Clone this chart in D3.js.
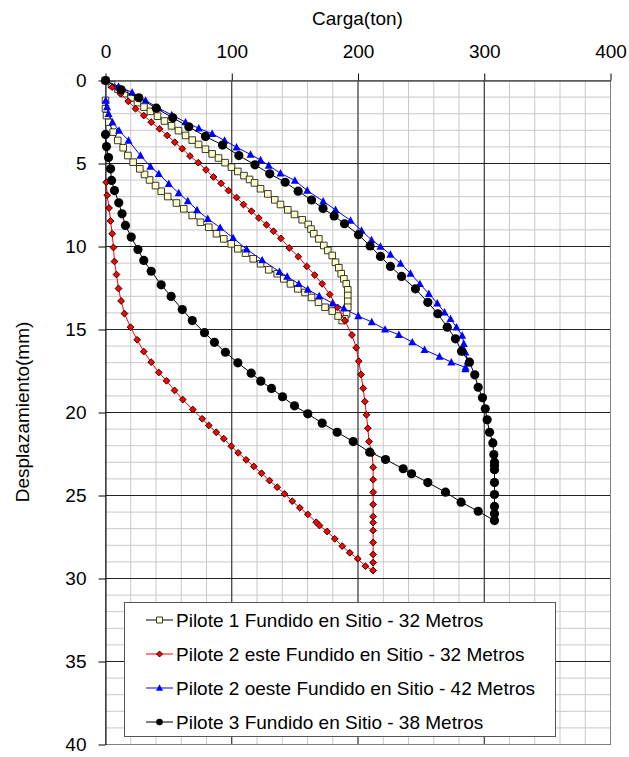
<!DOCTYPE html>
<html>
<head>
<meta charset="utf-8">
<script src="https://cdn.jsdelivr.net/npm/d3@7"></script>
<style>
  body { margin: 0; background: #fff; }
  svg text { font-family: "Liberation Sans", Arial, sans-serif; fill: #000; }
</style>
</head>
<body>
<div id="chart"></div>
<script>
// axis ticks
var xTicks = [0, 100, 200, 300, 400];
var yTicks = [0, 5, 10, 15, 20, 25, 30, 35, 40];

var seriesNames = [
  'Pilote 1 Fundido en Sitio - 32 Metros',
  'Pilote 2 este Fundido en Sitio - 32 Metros',
  'Pilote 2 oeste Fundido en Sitio - 42 Metros',
  'Pilote 3 Fundido en Sitio - 38 Metros'
];

// [carga (ton), desplazamiento (mm)] -- loading then unloading
var pilote1 = [
  [0, 0], [4.8, 0.25], [9.9, 0.52], [15.0, 0.79], [20.2, 1.05], [25.3, 1.33], [30.5, 1.6], [35.6, 1.86],
  [41.2, 2.15], [46.7, 2.44], [52.3, 2.73], [57.8, 3.02], [63.4, 3.31], [68.7, 3.59], [73.7, 3.85],
  [79.2, 4.14], [84.5, 4.42], [89.5, 4.67], [94.7, 4.95], [99.8, 5.22], [104.8, 5.48], [109.7, 5.73],
  [114.1, 5.96], [118.0, 6.17], [122.8, 6.52], [128.6, 6.83], [134.1, 7.19], [138.6, 7.47], [144.4, 7.79],
  [149.7, 8.07], [155.8, 8.39], [160.6, 8.67], [162.8, 8.95], [165.0, 9.23], [169.0, 9.54], [172.9, 9.94],
  [176.1, 10.24], [179.6, 10.54], [182.2, 10.95], [184.8, 11.28], [186.7, 11.64], [188.8, 11.95],
  [190.7, 12.25], [191.9, 12.61], [191.9, 12.95], [191.9, 13.3], [191.9, 13.66], [190.9, 14.05], [189.5, 14.36],
  [187.5, 14.46], [184.2, 14.19], [179.6, 13.89], [173.9, 13.66], [168.7, 13.36], [163.2, 13.07],
  [158.0, 12.77], [152.3, 12.55], [146.5, 12.25], [141.2, 11.95], [136.0, 11.64], [129.3, 11.4],
  [122.8, 11.04], [117.0, 10.74], [110.9, 10.4], [104.8, 10.14], [99.6, 9.84], [93.7, 9.54], [87.9, 9.23],
  [81.8, 8.84], [75.2, 8.54], [68.7, 8.13], [62.0, 7.73], [56.2, 7.38], [49.3, 6.99], [44.1, 6.67],
  [39.6, 6.33], [34.9, 5.99], [30.9, 5.66], [27.2, 5.32], [21.9, 4.92], [17.7, 4.52], [14.0, 4.05],
  [9.7, 3.61], [6.1, 3.11], [2.6, 2.51], [0.8, 2.11], [0, 1.7], [0, 1.2]
];

var pilote2este = [
  [0, 0], [5.3, 0.4], [11.9, 0.8], [18.0, 1.25], [23.8, 1.7], [30.3, 2.11], [36.2, 2.51], [42.8, 2.91],
  [48.9, 3.31], [54.9, 3.72], [60.8, 4.11], [66.9, 4.55], [73.5, 4.95], [79.6, 5.38], [85.5, 5.81],
  [91.6, 6.2], [97.4, 6.63], [103.8, 7.05], [109.3, 7.47], [115.6, 7.87], [121.4, 8.28], [127.5, 8.69],
  [133.1, 9.08], [138.9, 9.51], [145.6, 10.09], [152.7, 10.61], [159.4, 11.2], [165.7, 11.72],
  [171.6, 12.25], [177.6, 12.89], [183.8, 13.67], [189.5, 14.46], [195.2, 15.33], [198.6, 16.1],
  [200.6, 16.91], [202.4, 17.71], [204.1, 18.54], [205.4, 19.34], [206.7, 20.14], [207.8, 20.95],
  [208.7, 21.75], [211.2, 22.47], [212.0, 23.3], [212.0, 24.05], [212.0, 24.8], [212.0, 25.54],
  [212.0, 26.27], [212.0, 26.63], [212.0, 27.11], [212.0, 27.83], [212.0, 28.55], [212.0, 29.04], [212.0, 29.52],
  [205.9, 29.26], [199.8, 28.81], [193.5, 28.45], [187.5, 28.05], [181.6, 27.61], [175.6, 27.17],
  [169.5, 26.81], [166.9, 26.61], [160.2, 26.14], [153.9, 25.74], [147.9, 25.34], [141.8, 24.9],
  [136.0, 24.5], [129.9, 24.1], [123.6, 23.66], [117.5, 23.25], [111.4, 22.85], [105.1, 22.43],
  [99.6, 22.03], [93.7, 21.58], [87.7, 21.19], [81.8, 20.78], [76.6, 20.38], [69.1, 19.82], [61.2, 19.22],
  [54.7, 18.67], [48.3, 18.09], [42.2, 17.59], [36.2, 16.97], [30.3, 16.33], [25.1, 15.62], [19.8, 14.86],
  [15.0, 14.04], [12.4, 13.28], [10.3, 12.53], [8.7, 11.69], [7.1, 10.9], [6.3, 10.06], [5.3, 9.23],
  [4.0, 8.46], [2.8, 7.68], [1.3, 6.91], [0.6, 6.13]
];

var pilote2oeste = [
  [0, 0], [10.3, 0.36], [21.1, 0.72], [31.7, 1.2], [41.9, 1.66], [52.5, 2.08], [63.4, 2.51], [73.9, 2.88],
  [84.5, 3.21], [94.3, 3.61], [103.8, 4.02], [114.9, 4.46], [122.8, 4.79], [129.3, 5.12], [138.6, 5.59],
  [150.0, 6.02], [159.8, 6.63], [172.4, 7.27], [182.2, 7.79], [194.1, 8.43], [202.8, 9.04], [210.7, 9.6],
  [217.8, 10.0], [225.7, 10.48], [233.7, 11.02], [241.6, 11.63], [249.0, 12.25], [256.1, 12.85],
  [262.8, 13.42], [268.5, 13.96], [273.3, 14.36], [278.0, 14.86], [282.5, 15.36], [283.8, 15.86],
  [285.1, 16.37], [286.9, 16.91], [285.1, 17.38],
  [285.2, 17.28], [273.9, 16.97], [264.6, 16.63], [252.7, 16.22], [243.0, 15.76], [232.4, 15.32],
  [221.4, 14.99], [210.9, 14.55], [200.2, 14.19], [188.8, 13.73], [179.8, 13.42], [169.3, 12.98],
  [160.2, 12.59], [153.1, 12.25], [143.9, 11.81], [137.8, 11.52], [124.1, 10.82], [111.8, 10.17],
  [101.1, 9.48], [90.8, 8.86], [81.0, 8.33], [72.5, 7.8], [65.2, 7.26], [58.0, 6.78], [50.1, 6.22],
  [42.2, 5.62], [35.6, 5.18], [27.7, 4.52], [18.2, 3.61], [10.7, 3.01], [5.5, 2.51], [2.4, 2.01],
  [1.2, 1.6], [0.2, 1.2]
];

var pilote3 = [
  [0, 0], [12.4, 0.56], [26.4, 1.04], [40.2, 1.67], [53.3, 2.25], [66.0, 2.79], [79.2, 3.37], [92.7, 3.89],
  [105.6, 4.52], [118.4, 5.08], [130.1, 5.62], [142.3, 6.13], [152.6, 6.67], [163.2, 7.2], [172.3, 7.71],
  [181.1, 8.16], [189.3, 8.63], [200.4, 9.29], [209.6, 9.97], [217.8, 10.6], [225.7, 11.2], [234.5, 11.8],
  [245.5, 12.55], [255.3, 13.36], [263.2, 14.05], [270.7, 14.86], [277.2, 15.56], [282.0, 16.31],
  [288.3, 16.97], [292.5, 17.73], [295.2, 18.48], [298.6, 19.11], [300.8, 19.78], [302.3, 20.44],
  [304.2, 21.19], [306.8, 21.83], [307.6, 22.53], [308.1, 22.99], [308.1, 23.19], [308.1, 23.45],
  [308.1, 24.22], [308.1, 24.94], [308.1, 25.66], [308.1, 26.1], [308.1, 26.51],
  [295.2, 25.95], [281.7, 25.4], [269.3, 24.8], [255.3, 24.22], [242.4, 23.69], [235.8, 23.39],
  [221.8, 22.83], [209.3, 22.39], [196.2, 21.75], [183.5, 21.19], [171.6, 20.64], [160.2, 20.08],
  [149.7, 19.6], [140.2, 19.05], [131.5, 18.55], [123.0, 18.11], [115.4, 17.63], [104.8, 17.01],
  [95.0, 16.37], [86.3, 15.77], [78.4, 15.19], [68.7, 14.46], [60.8, 13.8], [52.0, 13.01], [44.1, 12.31],
  [36.2, 11.49], [30.3, 10.84], [25.7, 10.18], [20.4, 9.43], [15.8, 8.73], [13.1, 8.03], [10.5, 7.37],
  [7.1, 6.63], [4.8, 6.02], [4.0, 5.32], [2.4, 4.64], [0.8, 3.98], [0, 3.25]
];

var width = 629, height = 757;
var plotLeft = 105, plotRight = 610, plotTop = 80, plotBottom = 744;

var svg = d3.select('#chart')
  .append('svg')
  .attr('width', width)
  .attr('height', height);

var x = d3.scaleLinear().domain([0, 400]).range([plotLeft + 0.5, plotRight + 0.5]);
var y = d3.scaleLinear().domain([0, 40]).range([plotTop + 0.5, plotBottom + 0.5]);

// minor grid
svg.append('g')
  .selectAll('line')
  .data(d3.range(0, 401, 20))
  .join('line')
  .attr('x1', function (d) { return x(d); })
  .attr('x2', function (d) { return x(d); })
  .attr('y1', y(0))
  .attr('y2', y(40))
  .attr('stroke', '#c8c8c8');

svg.append('g')
  .selectAll('line')
  .data(d3.range(0, 41, 1))
  .join('line')
  .attr('x1', x(0))
  .attr('x2', x(400))
  .attr('y1', function (d) { return y(d); })
  .attr('y2', function (d) { return y(d); })
  .attr('stroke', '#c8c8c8');

// major grid
svg.append('g')
  .selectAll('line')
  .data(xTicks)
  .join('line')
  .attr('x1', function (d) { return x(d); })
  .attr('x2', function (d) { return x(d); })
  .attr('y1', y(0))
  .attr('y2', y(40))
  .attr('stroke', '#222');

svg.append('g')
  .selectAll('line')
  .data(yTicks)
  .join('line')
  .attr('x1', x(0))
  .attr('x2', x(400))
  .attr('y1', function (d) { return y(d); })
  .attr('y2', function (d) { return y(d); })
  .attr('stroke', '#222');

// plot border
svg.append('rect')
  .attr('x', x(0))
  .attr('y', y(0))
  .attr('width', x(400) - x(0))
  .attr('height', y(40) - y(0))
  .attr('fill', 'none')
  .attr('stroke', '#808080');

// axes
var xAxis = svg.append('g')
  .attr('transform', 'translate(0,' + y(0) + ')')
  .call(d3.axisTop(x).tickValues(xTicks).tickSizeInner(7).tickSizeOuter(0).tickPadding(16));

var yAxis = svg.append('g')
  .attr('transform', 'translate(' + x(0) + ',0)')
  .call(d3.axisLeft(y).tickValues(yTicks).tickSizeInner(7).tickSizeOuter(0).tickPadding(12));

[xAxis, yAxis].forEach(function (a) {
  a.select('.domain').attr('stroke', '#000');
  a.selectAll('.tick line').attr('stroke', '#000');
  a.selectAll('.tick text')
    .attr('font-size', '19px')
    .attr('font-family', '"Liberation Sans", Arial, sans-serif');
});
xAxis.select('.domain').attr('stroke', '#555').attr('stroke-width', 1.5);

// axis titles
svg.append('text')
  .attr('x', (plotLeft + plotRight) / 2)
  .attr('y', 25)
  .attr('text-anchor', 'middle')
  .attr('font-size', '19px')
  .text('Carga(ton)');

svg.append('text')
  .attr('transform', 'translate(29,' + (plotTop + plotBottom) / 2 + ') rotate(-90)')
  .attr('text-anchor', 'middle')
  .attr('font-size', '19px')
  .text('Desplazamiento(mm)');

// marker shapes
function squarePath(s) { return 'M' + -s + ',' + -s + 'H' + s + 'V' + s + 'H' + -s + 'Z'; }
function diamondPath(s) { return 'M0,' + -s + 'L' + s + ',0L0,' + s + 'L' + -s + ',0Z'; }
function trianglePath(s) { return 'M0,' + (-s * 1.05) + 'L' + s + ',' + (s * 0.8) + 'L' + -s + ',' + (s * 0.8) + 'Z'; }
function circlePath(s) { return 'M' + -s + ',0A' + s + ',' + s + ' 0 1,0 ' + s + ',0A' + s + ',' + s + ' 0 1,0 ' + -s + ',0Z'; }

var series = [
  { name: seriesNames[0], data: pilote1, line: '#000', fill: '#ffffc8', stroke: '#222', shape: squarePath, size: 3.3, lsize: 3 },
  { name: seriesNames[1], data: pilote2este, line: '#ff0000', fill: '#ff0000', stroke: '#000', shape: diamondPath, size: 3.4, lsize: 3 },
  { name: seriesNames[2], data: pilote2oeste, line: '#0000ff', fill: '#0000ff', stroke: 'none', shape: trianglePath, size: 4, lsize: 3.5 },
  { name: seriesNames[3], data: pilote3, line: '#000', fill: '#000', stroke: 'none', shape: circlePath, size: 4.6, lsize: 3.3 }
];

var line = d3.line()
  .x(function (d) { return x(d[0]); })
  .y(function (d) { return y(d[1]); });

series.forEach(function (s) {
  var g = svg.append('g');
  g.append('path')
    .attr('d', line(s.data))
    .attr('fill', 'none')
    .attr('stroke', s.line)
    .attr('stroke-width', 1);
  g.selectAll('path.pt')
    .data(s.data)
    .join('path')
    .attr('class', 'pt')
    .attr('transform', function (d) { return 'translate(' + x(d[0]) + ',' + y(d[1]) + ')'; })
    .attr('d', s.shape(s.size))
    .attr('fill', s.fill)
    .attr('stroke', s.stroke)
    .attr('stroke-width', 0.9);
});

// legend
var legend = svg.append('g');
legend.append('rect')
  .attr('x', 124.5)
  .attr('y', 602.5)
  .attr('width', 431)
  .attr('height', 134)
  .attr('fill', '#fff')
  .attr('stroke', '#555');

series.forEach(function (s, i) {
  var ly = 620 + i * 34;
  legend.append('line')
    .attr('x1', 146)
    .attr('x2', 173)
    .attr('y1', ly)
    .attr('y2', ly)
    .attr('stroke', s.line);
  legend.append('path')
    .attr('transform', 'translate(159.5,' + ly + ')')
    .attr('d', s.shape(s.lsize))
    .attr('fill', s.fill)
    .attr('stroke', s.stroke)
    .attr('stroke-width', 0.9);
  legend.append('text')
    .attr('x', 176)
    .attr('y', ly + 7)
    .attr('font-size', '19px')
    .text(s.name);
});
</script>
</body>
</html>
